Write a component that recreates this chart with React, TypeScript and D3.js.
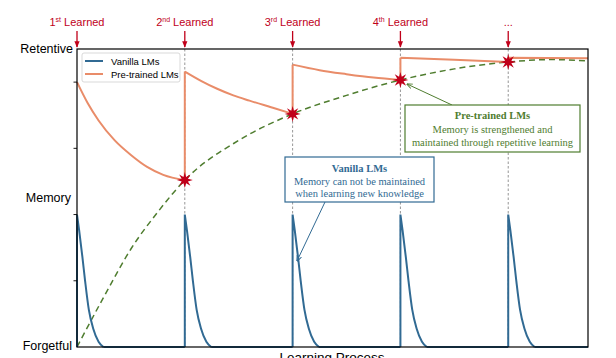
import React from 'react';
import * as d3 from 'd3';

// learning events (in units of "learning interval")
const learnT = [0, 1, 2, 3, 4];
const learnNum = ['1', '2', '3', '4', '...'];
const learnSup = ['st', 'nd', 'rd', 'th', ''];

// vanilla LM: spike at each learning event, then fast forgetting
const vanillaPeak = 0.5;
const vanillaDecayT = [0, 0.02, 0.05, 0.075, 0.11, 0.15, 0.2, 0.245];
const vanillaDecayV = [0.5, 0.44, 0.34, 0.25, 0.14, 0.07, 0.02, 0];

// pre-trained LM: jumps up at each event, slowly decays
const pretrainedT = [0, 0.1, 0.2, 0.35, 0.5, 0.65, 0.8, 1.0,
  1.0, 1.15, 1.3, 1.45, 1.6, 1.8, 2.0,
  2.0, 2.25, 2.5, 2.75, 3.0,
  3.0, 3.5, 4.0,
  4.0, 4.74];
const pretrainedV = [1.0, 0.92, 0.855, 0.78, 0.725, 0.68, 0.65, 0.63,
  1.04, 1.005, 0.975, 0.95, 0.93, 0.905, 0.88,
  1.066, 1.045, 1.03, 1.017, 1.008,
  1.092, 1.084, 1.076,
  1.092, 1.09];

// dashed envelope of retained memory
const envelopeT = [0, 0.25, 0.5, 0.75, 1, 1.5, 2, 2.5, 3, 3.5, 4, 4.4, 4.74];
const envelopeV = [0, 0.19, 0.37, 0.51, 0.63, 0.78, 0.88, 0.95, 1.008, 1.05, 1.076, 1.085, 1.08];

const starT = [1, 2, 3, 4];
const starV = [0.63, 0.88, 1.008, 1.076];

const yTicks = [0.25, 0.5, 0.75, 1.0];

const BLUE = '#316a93';
const ORANGE = '#e98c69';
const GREEN = '#4f7d2f';
const RED = '#c0001a';
const SANS = '"Liberation Sans", Arial, sans-serif';
const SERIF = '"Liberation Serif", "Times New Roman", serif';

const W = 616, H = 358;
const x = d3.scaleLinear().domain([0, 4.74]).range([77, 588]);
const y = d3.scaleLinear().domain([0, 1.125]).range([347, 49]);

const line = d3.line<[number, number]>().x(d => x(d[0])).y(d => y(d[1]));
const smooth = d3.line<[number, number]>().x(d => x(d[0])).y(d => y(d[1])).curve(d3.curveMonotoneX);

function vanillaPath() {
  const pts: [number, number][] = [];
  learnT.forEach((t, i) => {
    pts.push([t, 0]);
    const seg: [number, number][] = vanillaDecayT.map((dt, j) => [t + dt, vanillaDecayV[j]]);
    pts.push(...seg);
    const next = i < learnT.length - 1 ? learnT[i + 1] : x.domain()[1];
    pts.push([next, 0]);
  });
  // draw spikes linearly but decays smoothly: split into pieces
  let d = '';
  learnT.forEach((t, i) => {
    const seg: [number, number][] = vanillaDecayT.map((dt, j) => [t + dt, vanillaDecayV[j]]);
    const next = i < learnT.length - 1 ? learnT[i + 1] : x.domain()[1];
    d += line([[t, 0], [t, vanillaPeak]]);
    d += smooth(seg);
    d += line([[t + vanillaDecayT[vanillaDecayT.length - 1], 0], [next, 0]]);
  });
  return d;
}

function pretrainedPath() {
  const segs: [number, number][][] = [];
  let cur: [number, number][] = [];
  pretrainedT.forEach((t, i) => {
    if (cur.length && t === cur[cur.length - 1][0]) {
      segs.push(cur);
      cur = [];
    }
    cur.push([t, pretrainedV[i]]);
  });
  segs.push(cur);
  let d = '';
  segs.forEach((s, i) => {
    d += smooth(s);
    if (i > 0) {
      const prev = segs[i - 1][segs[i - 1].length - 1];
      d += line([prev, s[0]]);
    }
  });
  return d;
}

function starPath(cx: number, cy: number) {
  const pts: [number, number][] = [];
  const n = 8;
  for (let i = 0; i < n * 2; i++) {
    const r = i % 2 === 0 ? 8 : 3.4;
    const a = (Math.PI * i) / n - Math.PI / 2;
    pts.push([cx + r * Math.cos(a), cy + r * Math.sin(a)]);
  }
  return 'M' + pts.map(p => p.join(',')).join('L') + 'Z';
}

export default function App() {
  const envelope: [number, number][] = envelopeT.map((t, i) => [t, envelopeV[i]]);
  const [x0, x1] = x.range();
  const [yb, yt] = y.range();
  return (
    <svg width={W} height={H} style={{ position: 'absolute', left: 0, top: 0, background: '#fff' }}>
      <defs>
        <marker id="arrRed" viewBox="0 0 10 10" refX="9" refY="5" markerWidth="5" markerHeight="5" orient="auto">
          <path d="M0,1L10,5L0,9Z" fill={RED} />
        </marker>
        <marker id="arrGreen" viewBox="0 0 10 10" refX="9" refY="5" markerWidth="6" markerHeight="6" orient="auto">
          <path d="M0,1L10,5L0,9" fill="none" stroke={GREEN} strokeWidth={1.5} />
        </marker>
        <marker id="arrBlue" viewBox="0 0 10 10" refX="9" refY="5" markerWidth="6" markerHeight="6" orient="auto">
          <path d="M0,1L10,5L0,9" fill="none" stroke={BLUE} strokeWidth={1.5} />
        </marker>
      </defs>

      {/* learning event markers */}
      {learnT.map((t, i) => (
        <g key={'l' + i}>
          {i > 0 && (
            <line x1={x(t)} x2={x(t)} y1={yt} y2={yb} stroke="#8a8a8a" strokeWidth={0.9} strokeDasharray="2.5,2" />
          )}
          <line x1={x(t)} x2={x(t)} y1={31} y2={47} stroke={RED} strokeWidth={1.3} markerEnd="url(#arrRed)" />
          <text x={x(t)} y={26} textAnchor="middle" fill={RED} fontFamily={SANS} fontSize={11}>
            {learnNum[i]}
            {learnSup[i] && (
              <tspan fontSize={7} dy={-4}>{learnSup[i]}</tspan>
            )}
            {learnSup[i] && <tspan dy={4}>{' Learned'}</tspan>}
          </text>
        </g>
      ))}

      {/* envelope */}
      <path d={smooth(envelope) || ''} fill="none" stroke={GREEN} strokeWidth={1.5} strokeDasharray="6,4" />

      {/* curves */}
      <path d={pretrainedPath()} fill="none" stroke={ORANGE} strokeWidth={2} />
      <path d={vanillaPath()} fill="none" stroke={BLUE} strokeWidth={2} />

      {starT.map((t, i) => (
        <path key={'s' + i} d={starPath(x(t), y(starV[i]))} fill={RED} />
      ))}

      {/* frame */}
      <rect x={x0} y={yt} width={x1 - x0} height={yb - yt} fill="none" stroke="#000" strokeWidth={1.2} />
      {yTicks.map(v => (
        <line key={v} x1={x0 - 3.5} x2={x0} y1={y(v)} y2={y(v)} stroke="#000" strokeWidth={0.9} />
      ))}

      {/* axis labels */}
      <g fontFamily={SANS} fill="#000">
        <text x={73} y={y(1.125) + 4} textAnchor="end" fontSize={12.5}>Retentive</text>
        <text x={71} y={(yt + yb) / 2 + 4} textAnchor="end" fontSize={12.5}>Memory</text>
        <text x={72} y={y(0) + 3} textAnchor="end" fontSize={12.5}>Forgetful</text>
        <text x={332} y={362} textAnchor="middle" fontSize={13.5}>Learning Process</text>
      </g>

      {/* legend */}
      <rect x={82} y={53} width={98} height={29} fill="#fff" stroke="#cfcfcf" strokeWidth={0.8} rx={2} />
      <line x1={85} x2={103} y1={61} y2={61} stroke={BLUE} strokeWidth={2} />
      <line x1={85} x2={103} y1={74} y2={74} stroke={ORANGE} strokeWidth={2} />
      <text x={111} y={64.5} fontFamily={SANS} fontSize={9.5}>Vanilla LMs</text>
      <text x={111} y={77.5} fontFamily={SANS} fontSize={9.5}>Pre-trained LMs</text>

      {/* annotations */}
      <line x1={452} y1={105} x2={407} y2={84} stroke={GREEN} strokeWidth={1} markerEnd="url(#arrGreen)" />
      <rect x={405} y={105} width={175} height={47} fill="#fff" stroke={GREEN} strokeWidth={1.2} />
      <g fontFamily={SERIF} fontSize={10.5} fill={GREEN} textAnchor="middle">
        <text x={492.5} y={119} fontWeight="bold">Pre-trained LMs</text>
        <text x={492.5} y={132.5}>Memory is strengthened and</text>
        <text x={492.5} y={145.5}>maintained through repetitive learning</text>
      </g>

      <line x1={325} y1={202} x2={297} y2={261} stroke={BLUE} strokeWidth={1} markerEnd="url(#arrBlue)" />
      <rect x={285} y={157} width={149} height={45} fill="#fff" stroke={BLUE} strokeWidth={1.2} />
      <g fontFamily={SERIF} fontSize={10.5} fill={BLUE} textAnchor="middle">
        <text x={359.5} y={171.5} fontWeight="bold">Vanilla LMs</text>
        <text x={359.5} y={184.5}>Memory can not be maintained</text>
        <text x={359.5} y={197}>when learning new knowledge</text>
      </g>
    </svg>
  );
}
